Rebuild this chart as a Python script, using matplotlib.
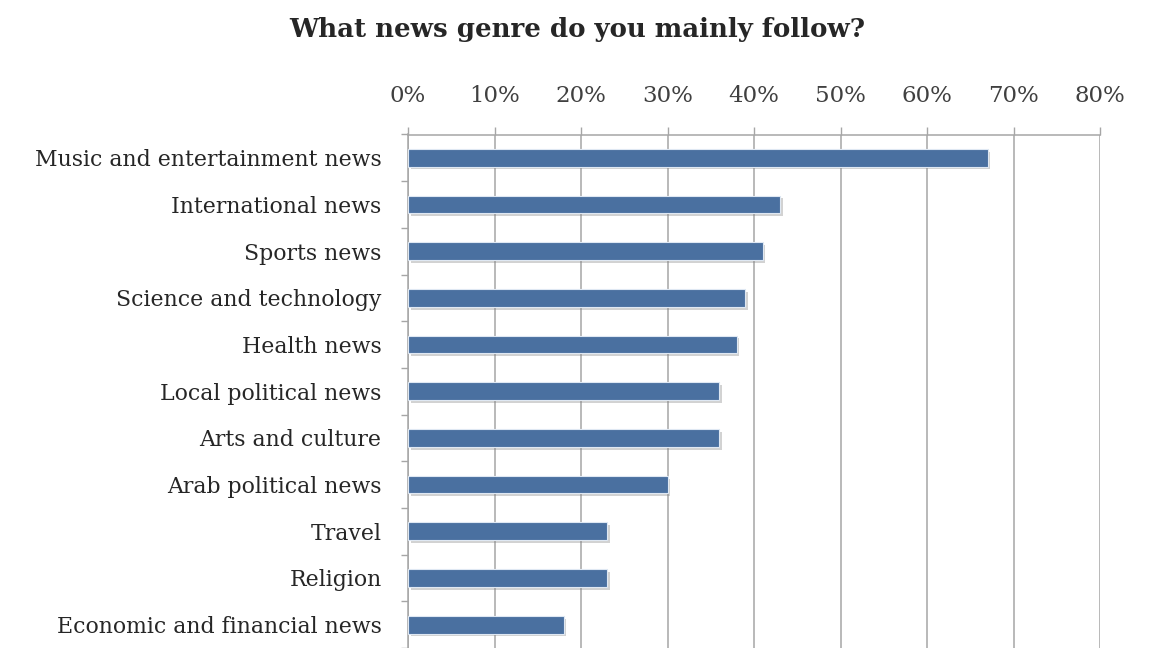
import matplotlib
matplotlib.use('Agg')
import matplotlib.pyplot as plt
import matplotlib.patheffects as pe
from matplotlib.ticker import FixedLocator, PercentFormatter
import numpy as np

# Survey answers, in display order (top to bottom)
genres = ['Music and entertainment news', 'International news', 'Sports news',
          'Science and technology', 'Health news', 'Local political news',
          'Arts and culture', 'Arab political news', 'Travel', 'Religion',
          'Economic and financial news']
shares = [67, 43, 41, 39, 38, 36, 36, 30, 23, 23, 18]
x_ticks = [0, 10, 20, 30, 40, 50, 60, 70, 80]

plt.rcParams['font.family'] = ['DejaVu Serif']

fig = plt.figure(figsize=(11.55, 6.48), dpi=100)
ax = fig.add_axes([408 / 1155, 0.0, (1100 - 408) / 1155, 1 - 134.5 / 648])

pos = np.arange(len(genres))
bars = ax.barh(pos, shares, height=0.38, color='#4a70a0', edgecolor='#dfe8f3',
               linewidth=0.8, zorder=3)
for b in bars:
    b.set_path_effects([pe.SimplePatchShadow(offset=(2, -2), shadow_rgbFace='#808080', alpha=0.35),
                        pe.Normal()])

ax.set_xlim(0, 80)
ax.set_ylim(10.43, -0.5)

# percent scale runs along the top
ax.xaxis.tick_top()
ax.xaxis.set_major_locator(FixedLocator(x_ticks))
ax.xaxis.set_major_formatter(PercentFormatter(decimals=0))
ax.tick_params(axis='x', which='major', direction='out', length=6, width=1,
               color='#a6a6a6', labelsize=16.5, labelcolor='#404040', pad=14)
ax.grid(axis='x', color='#a6a6a6', linewidth=1.1, zorder=0)

# category labels with small tick marks between rows
ax.set_yticks(pos)
ax.set_yticklabels(genres)
ax.tick_params(axis='y', which='major', length=0, labelsize=15.8, labelcolor='#262626', pad=19)
ax.set_yticks(np.arange(-0.5, len(genres), 1.0), minor=True)
ax.tick_params(axis='y', which='minor', direction='out', length=5, width=1, color='#a6a6a6')

for side in ['right', 'bottom']:
    ax.spines[side].set_visible(False)
for side in ['left', 'top']:
    ax.spines[side].set_color('#a6a6a6')
    ax.spines[side].set_linewidth(1.1)

fig.text(577 / 1155, 1 - 30 / 648, 'What news genre do you mainly follow?',
         ha='center', va='center', fontsize=18.7, fontweight='bold', color='#262626')

fig.savefig('out.png', dpi=100)
